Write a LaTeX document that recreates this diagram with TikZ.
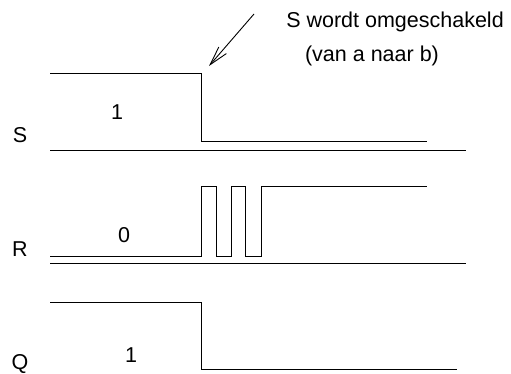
\documentclass[tikz,border=0pt]{standalone}
\usepackage{fontspec}
\setmainfont{Liberation Sans}
\usetikzlibrary{arrows.meta}
\tikzset{
	signaal/.style={line width=1pt, line join=miter},
	as/.style={line width=1pt},
	lbl/.style={inner sep=0, outer sep=0, anchor=base, font=\fontsize{21.5}{26}\selectfont},
	pijl/.style={line width=0.9pt, -{Straight Barb[length=19pt,width=10pt,line width=0.9pt]}}
}
\begin{document}
\begin{tikzpicture}[x=1pt, y=-1pt]
			\useasboundingbox (0,0) rectangle (511,374);
			\node[lbl] (uitleg) at (395, 28) {S wordt omgeschakeld};
			\node[lbl] (uitleg2) at (372, 62) {(van a naar b)};
			\coordinate (pijlbegin) at (254, 14);
			\coordinate (pijlpunt) at (209, 66);
			\draw[pijl] (pijlbegin) -- (pijlpunt);
			% S
			\node[lbl] (sNaam) at (20, 143) {S};
			\node[lbl] (sWaarde) at (117, 120) {1};
			\draw[signaal] (50, 74) -- (201, 74) -- (201, 142) -- (427, 142);
			\draw[as] (50, 151) -- (466, 151);
			% R
			\node[lbl] (rNaam) at (20, 256) {R};
			\node[lbl] (rWaarde) at (124, 242) {0};
			\draw[signaal] (50, 256) -- (201, 256) -- (201, 187) -- (216, 187) -- (216, 256) -- (231, 256) -- (231, 187) -- (245, 187) -- (245, 256) -- (261, 256) -- (261, 187) -- (427, 187);
			\draw[as] (50, 263) -- (466, 263);
			% Q
			\node[lbl] (qNaam) at (20, 369) {Q};
			\node[lbl] (qWaarde) at (131, 362) {1};
			\draw[signaal] (50, 302) -- (201, 302) -- (201, 369) -- (457, 369);
		\end{tikzpicture}
\end{document}
